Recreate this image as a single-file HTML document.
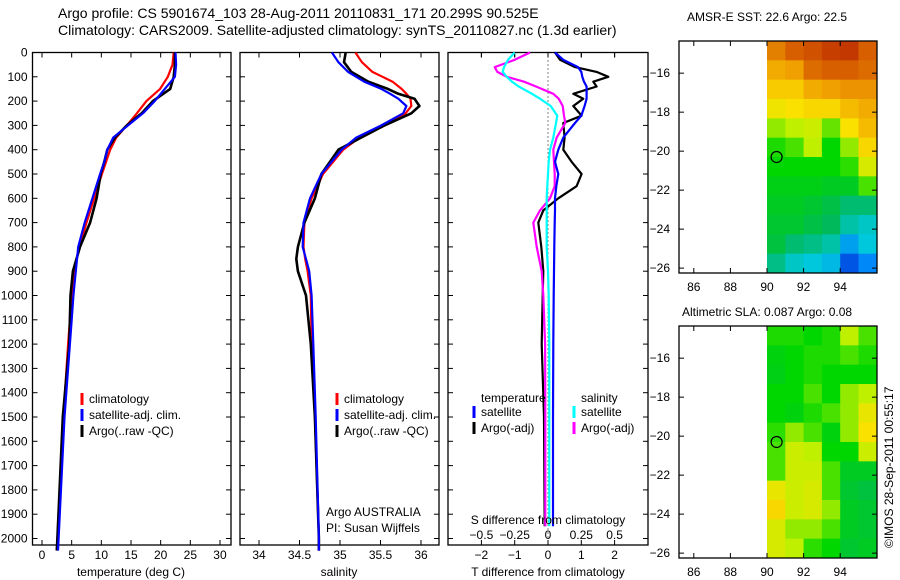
<!DOCTYPE html>
<html><head><meta charset="utf-8"><style>
body{margin:0;background:#fff;}
svg{display:block;font-family:"Liberation Sans",sans-serif;}
text{font-size:12px;fill:#000;}
</style></head><body>
<svg id="fig" width="900" height="580" viewBox="0 0 900 580" xmlns="http://www.w3.org/2000/svg">
<text x="58" y="18" style="font-size:14px">Argo profile: CS 5901674_103 28-Aug-2011 20110831_171 20.299S 90.525E</text>
<text x="58" y="35" style="font-size:14px">Climatology: CARS2009. Satellite-adjusted climatology: synTS_20110827.nc (1.3d earlier)</text>
<text x="687" y="21">AMSR-E SST: 22.6 Argo: 22.5</text>
<text x="682" y="316">Altimetric SLA: 0.087 Argo: 0.08</text>
<text transform="translate(893,548) rotate(-90)">©IMOS 28-Sep-2011 00:55:17</text>
<g id="layer"></g>
</svg>
<script>
// ---- depth grid (m) ----
const tDepths = [0,50,100,150,200,250,300,350,400,450,500,600,700,800,900,1000,1100,1200,1500,2000,2050];
const tempClim = [22.2,22.0,21.2,19.9,17.6,16.0,14.3,12.5,11.5,10.8,10.1,8.8,7.5,6.3,5.4,5.0,4.7,4.4,3.6,2.6,2.5];
const tempSat  = [22.5,22.6,22.4,20.7,19.0,17.0,14.5,12.0,11.0,10.5,9.8,8.5,7.2,6.1,5.7,5.3,5.0,4.7,3.8,2.8,2.7];
const tempArgo = [22.4,22.4,22.2,21.6,18.7,16.8,14.3,12.3,11.0,10.5,9.9,9.2,8.1,6.4,5.2,4.8,4.7,4.6,3.5,2.6,2.5];
const sDepths = [0,40,80,120,150,170,190,220,250,300,350,400,500,600,700,800,850,900,1000,1200,1500,2000,2050];
const salClim = [35.19,35.27,35.40,35.65,35.76,35.82,35.87,35.88,35.81,35.55,35.24,35.04,34.79,34.65,34.56,34.55,34.57,34.60,34.64,34.65,34.69,34.74,34.74];
const salSat  = [34.90,34.98,35.10,35.30,35.51,35.62,35.72,35.82,35.78,35.51,35.20,35.02,34.77,34.63,34.55,34.54,34.58,34.62,34.65,34.67,34.70,34.74,34.74];
const salArgo = [35.07,35.05,35.14,35.35,35.59,35.72,35.92,35.98,35.88,35.55,35.26,34.98,34.77,34.69,34.56,34.48,34.46,34.48,34.58,34.64,34.69,34.74,34.74];
const dDepths = [0,30,60,80,100,120,140,170,190,220,260,290,350,400,450,500,550,600,650,700,800,900,1000,1200,1500,1950];
const tDiffSat  = [0.21,0.46,0.9,1.0,1.03,1.08,1.16,1.16,1.16,1.1,1.0,0.81,0.46,0.31,0.21,0.31,0.25,0.21,0.21,0.2,0.19,0.18,0.17,0.16,0.15,0.15];
const tDiffArgo = [0.21,0.36,0.81,1.46,1.81,1.36,1.46,0.76,1.06,0.76,1.01,0.46,0.5,0.46,0.71,1.01,0.86,0.31,-0.14,-0.29,-0.2,-0.14,-0.16,-0.19,-0.12,-0.1];
const sDiffSat  = [-0.25,-0.3,-0.33,-0.34,-0.31,-0.27,-0.22,-0.12,-0.06,0.02,0.07,0.06,0.04,0.015,0.005,0.0,-0.005,-0.01,-0.01,-0.01,-0.01,0.0,0.005,0.01,0.01,0.01];
const sDiffArgo = [-0.135,-0.25,-0.4,-0.38,-0.31,-0.18,-0.09,0.04,0.08,0.11,0.12,0.13,0.065,0.04,0.045,0.05,0.05,0.015,-0.06,-0.11,-0.085,-0.047,-0.035,-0.022,-0.02,-0.02];
// ---- tick labels ----
const depthTicks = [0,100,200,300,400,500,600,700,800,900,1000,1100,1200,1300,1400,1500,1600,1700,1800,1900,2000];
const tempTicks = [0,5,10,15,20,25,30];
const salTicks = [34,34.5,35,35.5,36];
const salTickLabels = ["34","34.5","35","35.5","36"];
const tdTicks = [-2,-1,0,1,2];
const sdTicks = [-0.5,-0.25,0,0.25,0.5];
const sdTickLabels = ["\u22120.5","\u22120.25","0","0.25","0.5"];
const lonTicks = [86,88,90,92,94];
const latTicks = [-16,-18,-20,-22,-24,-26];
// ---- map grids: rows from north (-14.35) to south, cols 90..96 E ----
const sstGrid = [
[0.85,0.9,0.92,0.95,0.96,0.9],
[0.78,0.8,0.88,0.9,0.9,0.88],
[0.72,0.72,0.78,0.8,0.82,0.82],
[0.66,0.68,0.7,0.7,0.75,0.78],
[0.55,0.58,0.6,0.52,0.68,0.75],
[0.47,0.5,0.58,0.45,0.55,0.7],
[0.45,0.45,0.45,0.45,0.48,0.62],
[0.42,0.42,0.42,0.4,0.4,0.5],
[0.4,0.4,0.38,0.35,0.3,0.3],
[0.38,0.38,0.35,0.32,0.25,0.22],
[0.36,0.3,0.28,0.25,0.15,0.2],
[0.28,0.22,0.2,0.18,0.05,0.12]];
const slaGrid = [
[0.47,0.47,0.45,0.47,0.58,0.5],
[0.43,0.45,0.47,0.47,0.5,0.47],
[0.42,0.45,0.47,0.45,0.45,0.45],
[0.45,0.45,0.5,0.45,0.55,0.58],
[0.45,0.43,0.47,0.5,0.55,0.65],
[0.48,0.55,0.5,0.43,0.55,0.68],
[0.5,0.6,0.58,0.45,0.45,0.6],
[0.5,0.6,0.6,0.5,0.4,0.4],
[0.65,0.6,0.62,0.5,0.38,0.36],
[0.7,0.6,0.62,0.55,0.4,0.38],
[0.62,0.55,0.55,0.5,0.4,0.38],
[0.62,0.58,0.48,0.45,0.38,0.4]];
const argoLon = 90.525, argoLat = -20.299;

const NS='http://www.w3.org/2000/svg';
const L=document.getElementById('layer');
function mk(tag,attrs,parent){const e=document.createElementNS(NS,tag);for(const k in attrs)e.setAttribute(k,attrs[k]);(parent||L).appendChild(e);return e;}
function txt(x,y,s,anchor,parent){const t=mk('text',{x:x,y:y,'text-anchor':anchor||'start'},parent);t.textContent=s;return t;}

const yTop=52.5, yPer=0.243, yBot=545;
const yD=d=>yTop+d*yPer;
const xT=v=>42+v*5.933;
const xS=v=>259+(v-34)*81;
const xTD=v=>548+v*33.3;
const xSD=v=>548+v*133.2;

function frame(x0,x1,name){const r=mk('rect',{x:x0,y:yTop,width:x1-x0,height:yBot-yTop,fill:'none',stroke:'#000','stroke-width':1.3});

}
function line(xs,ds,fx,color,name,w){
 const p=xs.map((v,i)=>(i?'L':'M')+fx(v).toFixed(1)+','+yD(ds[i]).toFixed(1)).join('');
 const e=mk('path',{d:p,fill:'none',stroke:color,'stroke-width':w||2.2,'stroke-linejoin':'round'});
 
 
}
function depthTicksOn(x0,x1,labels){
 depthTicks.forEach(d=>{const y=yD(d);
  mk('line',{x1:x0,y1:y,x2:x0+5,y2:y,stroke:'#000'});mk('line',{x1:x1,y1:y,x2:x1-5,y2:y,stroke:'#000'});
  if(labels){const t=txt(x0-5,y+4,String(d),'end');
   
   }
 });
}
function xTicks(vals,labs,fx,ly){
 vals.forEach((v,i)=>{const x=fx(v);
  mk('line',{x1:x,y1:yTop,x2:x,y2:yTop+5,stroke:'#000'});mk('line',{x1:x,y1:yBot,x2:x,y2:yBot-5,stroke:'#000'});
  if(ly){const t=txt(x,ly,labs[i],'middle');
   
   }
 });
}
function legend(x,y,items){
 items.forEach((it,i)=>{const yy=y+i*16;
  mk('line',{x1:x,y1:yy-10,x2:x,y2:yy+2,stroke:it[1],'stroke-width':3});
  const t=txt(x+7,yy,it[0]);
  
  
 });
}

// Panel 1 temperature
frame(32.5,231,'temperature-panel');
depthTicksOn(32.5,231,true);
xTicks(tempTicks,tempTicks.map(String),xT,559);
line(tempClim,tDepths,xT,'#f00','temp-climatology-line');
line(tempArgo,tDepths,xT,'#000','temp-argo-line',2.6);
line(tempSat,tDepths,xT,'#00f','temp-satellite-line');
const t1=txt(131,576,'temperature (deg C)','middle');
legend(82,403,[['climatology','#f00'],['satellite-adj. clim.','#00f'],['Argo(..raw -QC)','#000']]);

// Panel 2 salinity
frame(240,439,'salinity-panel');
depthTicksOn(240,439,false);
xTicks(salTicks,salTickLabels,xS,559);
line(salClim,sDepths,xS,'#f00','sal-climatology-line');
line(salArgo,sDepths,xS,'#000','sal-argo-line',2.6);
line(salSat,sDepths,xS,'#00f','sal-satellite-line');
const t2=txt(339,576,'salinity','middle');
legend(337,403,[['climatology','#f00'],['satellite-adj. clim.','#00f'],['Argo(..raw -QC)','#000']]);
const a1=txt(326,516,'Argo AUSTRALIA');
const a2=txt(326,532,'PI: Susan Wijffels');

// Panel 3 differences
frame(448,648,'difference-panel');
depthTicksOn(448,648,false);
xTicks(tdTicks,tdTicks.map(v=>v<0?'\u2212'+(-v):String(v)),xTD,559);
sdTicks.forEach((v,i)=>{const x=xSD(v);mk('line',{x1:x,y1:yTop,x2:x,y2:yTop+5,stroke:'#000'});
 const t=txt(x,539,sdTickLabels[i],'middle');});
mk('line',{x1:548,y1:yTop,x2:548,y2:yBot,stroke:'#000','stroke-dasharray':'1,3'});
line(tDiffArgo,dDepths,xTD,'#000','t-diff-argo-line');
line(sDiffArgo,dDepths,xSD,'#f0f','s-diff-argo-line');
line(sDiffSat,dDepths,xSD,'#0ff','s-diff-satellite-line');
line(tDiffSat,dDepths,xTD,'#00f','t-diff-satellite-line');
const t3=txt(548,524,'S difference from climatology','middle');
const t4=txt(548,576,'T difference from climatology','middle');
const lt=txt(481,402,'temperature');
const ls=txt(581,402,'salinity');
legend(474,416,[['satellite','#00f'],['Argo(-adj)','#000']]);
legend(574,416,[['satellite','#0ff'],['Argo(-adj)','#f0f']]);

// colormap
const cstops=[[0,[0,50,200]],[0.1,[0,120,255]],[0.2,[0,200,220]],[0.32,[0,185,90]],[0.45,[0,215,0]],[0.58,[190,240,0]],[0.68,[250,225,0]],[0.8,[240,160,0]],[0.9,[215,95,0]],[1,[180,30,0]]];
function cmap(v){for(let i=1;i<cstops.length;i++){if(v<=cstops[i][0]){const a=cstops[i-1],b=cstops[i],f=(v-a[0])/(b[0]-a[0]);return 'rgb('+a[1].map((c,k)=>Math.round(c+(b[1][k]-c)*f)).join(',')+')';}}return 'rgb(180,30,0)';}

function map(y0,y1,latTop,latBot,grid,name){
 const x0=679,x1=877;
 const lx=lon=>767+(lon-90)*18.3;
 const ly=lat=>y0+(latTop-lat)*(y1-y0)/(latTop-latBot);
 const g=mk('g',{});
 
 
 const nr=grid.length,nc=grid[0].length;
 grid.forEach((row,r)=>row.forEach((v,c)=>{
  const la0=latTop+(latBot-latTop)*r/nr, la1=latTop+(latBot-latTop)*(r+1)/nr;
  const xa=lx(90+c), xb=Math.min(lx(91+c),x1);
  const cell=mk('rect',{x:xa,y:ly(la0),width:xb-xa+0.5,height:ly(la1)-ly(la0)+0.5,fill:cmap(v)},g);
  
  
 }));
 mk('rect',{x:x0,y:y0,width:x1-x0,height:y1-y0,fill:'none',stroke:'#000','stroke-width':1.3});
 lonTicks.forEach(lo=>{const x=lx(lo);mk('line',{x1:x,y1:y0,x2:x,y2:y0+5,stroke:'#000'});mk('line',{x1:x,y1:y1,x2:x,y2:y1-5,stroke:'#000'});
  const t=txt(x,y1+18,String(lo),'middle');});
 latTicks.forEach(la=>{const y=ly(la);mk('line',{x1:x0,y1:y,x2:x0+5,y2:y,stroke:'#000'});mk('line',{x1:x1,y1:y,x2:x1-5,y2:y,stroke:'#000'});
  const t=txt(x0-9,y+4,'\u2212'+(-la),'end');});
 const m=mk('circle',{cx:lx(argoLon),cy:ly(argoLat),r:5.5,fill:'none',stroke:'#000','stroke-width':1.2});
 
 
}
map(41,273,-14.35,-26.25,sstGrid,'sst-map');
map(326,558,-14.35,-26.25,slaGrid,'sla-map');
</script>
</body></html>
